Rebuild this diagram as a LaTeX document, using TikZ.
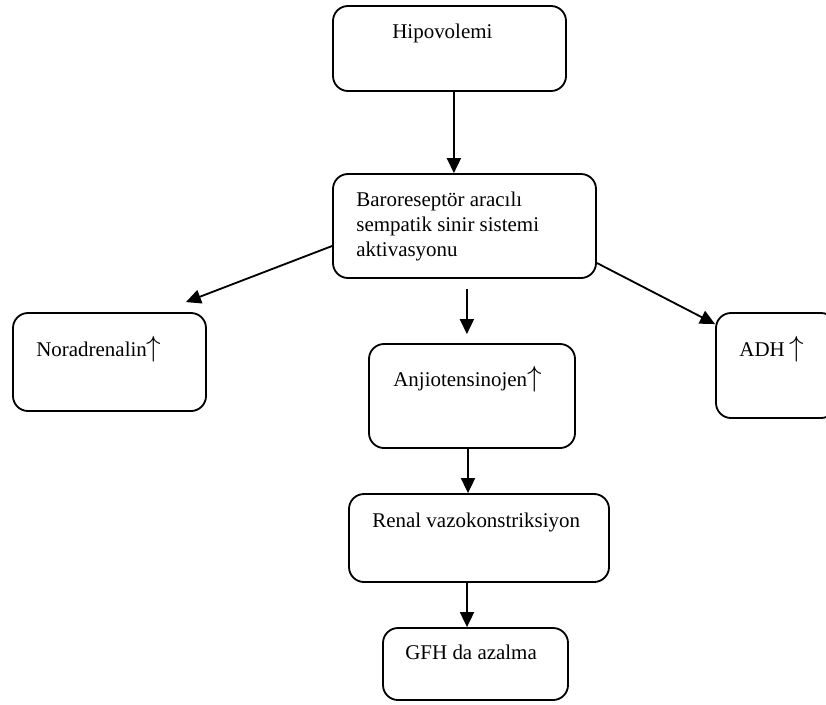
\documentclass[tikz,border=0pt]{standalone}
\usepackage{fontspec}
\setmainfont{Liberation Serif}
\usetikzlibrary{arrows.meta}

\newcommand{\upar}{{\fontsize{20.9}{20.9}\selectfont$\uparrow$}}

\begin{document}
\begin{tikzpicture}[
  >={Triangle[length=3.75mm,width=3.5mm]},
  box/.style={draw,line width=1.3pt,rounded corners=3.75mm,inner sep=0pt},
  txt/.style={inner sep=0pt,font=\fontsize{14.9}{17.7}\selectfont},
  arrow/.style={->,line width=1.3pt}
]
\clip (0,0) rectangle (20.65,-17.6);

% ----- Boxes ---------------------------------------------------------------
\node[box,minimum width=5.825cm,minimum height=2.125cm] (hipo)  at (11.2375,-1.2125) {};
\node[box,minimum width=6.575cm,minimum height=2.6cm]   (baro)  at (11.6125,-5.65)   {};
\node[box,minimum width=4.825cm,minimum height=2.45cm]  (nor)   at (2.7375,-9.05)    {};
\node[box,minimum width=5.15cm,minimum height=2.6cm]    (anj)   at (11.8,-9.9)       {};
\node[box,minimum width=3cm,minimum height=2.625cm]     (adh)   at (19.4,-9.1375)    {};
\node[box,minimum width=6.5cm,minimum height=2.2cm]     (renal) at (11.975,-13.45)   {};
\node[box,minimum width=4.625cm,minimum height=1.8cm]   (gfh)   at (11.8875,-16.6)   {};

% ----- Texts (top left of each box) ----------------------------------------
\node[txt,anchor=base west] (hipoT) at ([xshift=15mm,yshift=-8.25mm]hipo.north west) {Hipovolemi};
\node[txt,anchor=north west,align=left] (baroT) at ([xshift=6mm,yshift=-4.7mm]baro.north west)
  {Baroreseptör aracılı\\sempatik sinir sistemi\\aktivasyonu};
\node[txt,anchor=base west] (norT)   at ([xshift=6mm,yshift=-11mm]nor.north west)      {Noradrenalin\upar};
\node[txt,anchor=base west] (anjT)   at ([xshift=6.25mm,yshift=-10.75mm]anj.north west) {Anjiotensinojen\upar};
\node[txt,anchor=base west] (adhT)   at ([xshift=6mm,yshift=-11mm]adh.north west)      {ADH \upar};
\node[txt,anchor=base west] (renalT) at ([xshift=6mm,yshift=-8.5mm]renal.north west)   {Renal vazokonstriksiyon};
\node[txt,anchor=base west] (gfhT)   at ([xshift=5.75mm,yshift=-8mm]gfh.north west)    {GFH da azalma};

% ----- Arrows --------------------------------------------------------------
\draw[arrow] ([xshift=1.1mm]hipo.south) -- ([xshift=1.1mm]hipo.south |- baro.north);
\draw[arrow] ([yshift=-5mm]baro.west) -- ([xshift=-5.25mm,yshift=2.5mm]nor.north east);
\draw[arrow,shorten <=2.5mm,shorten >=2.25mm] ([xshift=0.6mm]baro.south) -- ([xshift=0.6mm]baro.south |- anj.north);
\draw[arrow] ([yshift=-9.25mm]baro.east) -- ([yshift=-3mm]adh.north west);
\draw[arrow] ([xshift=-1mm]anj.south) -- ([xshift=-1mm]anj.south |- renal.north);
\draw[arrow] ([xshift=-3mm]renal.south) -- ([xshift=-3mm]renal.south |- gfh.north);

\end{tikzpicture}
\end{document}
